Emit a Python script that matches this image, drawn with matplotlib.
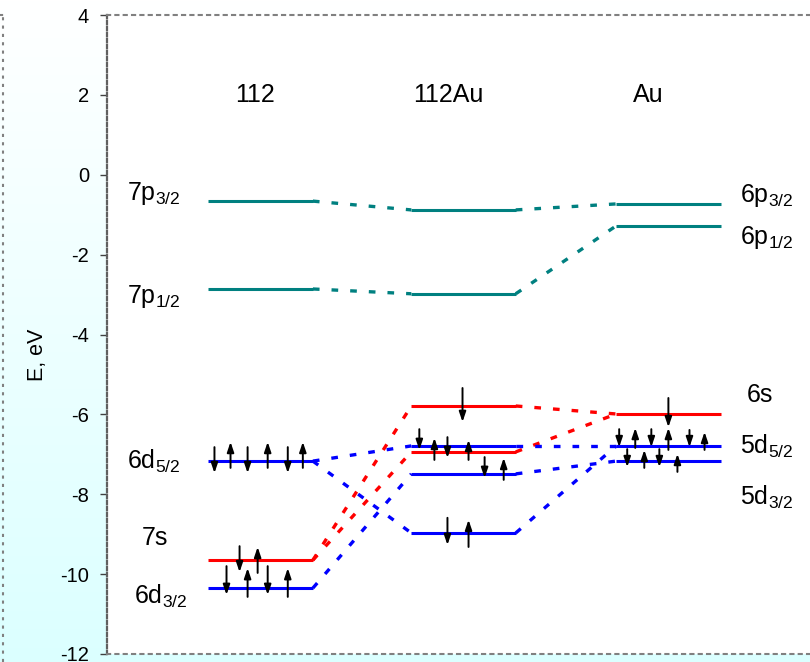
import numpy as np
import matplotlib.pyplot as plt
from matplotlib.lines import Line2D

plt.rcParams["font.family"] = ["Liberation Sans", "DejaVu Sans"]
plt.rcParams["mathtext.default"] = "regular"
plt.rcParams["axes.unicode_minus"] = False

# columns
col_names = ["112", "112Au", "Au"]
col_name_x = [1.47, 3.40, 5.39]
col_start = [1.01, 3.03, 5.07]
level_width = 1.04

# level energies (eV) and colours per column
e_112 = [-0.66, -2.86, -7.17, -9.65, -10.35]
c_112 = ["#008080", "#008080", "blue", "red", "blue"]
e_112au = [-0.88, -2.98, -5.79, -6.79, -6.94, -7.49, -8.97]
c_112au = ["#008080", "#008080", "red", "blue", "red", "blue", "blue"]
e_au = [-0.73, -1.28, -5.99, -6.79, -7.17]
c_au = ["#008080", "#008080", "red", "blue", "blue"]

# correlation lines: (index in left column, index in right column)
links_112_112au = [(0, 0), (1, 1), (3, 2), (3, 4), (2, 3), (2, 6), (4, 5)]
links_112au_au = [(0, 0), (1, 1), (2, 2), (4, 2), (3, 3), (6, 3), (5, 4)]

# electron spins: x, tail energy, head energy
spin_x = [1.07, 1.23, 1.40, 1.60, 1.80, 1.95,
          1.32, 1.50,
          1.19, 1.40, 1.60, 1.80,
          3.54,
          3.11, 3.26, 3.39, 3.60,
          3.76, 3.95,
          3.39, 3.60,
          5.59,
          5.10, 5.26, 5.42, 5.59, 5.80, 5.95,
          5.18, 5.35, 5.50, 5.68]
spin_from = [-6.82, -7.34, -6.82, -7.34, -6.82, -7.34,
             -9.30, -9.97,
             -9.80, -10.57, -9.80, -10.57,
             -5.34,
             -6.37, -7.14, -6.57, -7.14,
             -7.07, -7.64,
             -8.59, -9.32,
             -5.59,
             -6.37, -6.84, -6.37, -6.89, -6.39, -6.89,
             -6.87, -7.34, -6.87, -7.44]
spin_to = [-7.47, -6.69, -7.47, -6.69, -7.47, -6.69,
           -9.95, -9.32,
           -10.52, -9.85, -10.52, -9.85,
           -6.19,
           -6.89, -6.59, -7.09, -6.64,
           -7.59, -7.09,
           -9.27, -8.64,
           -6.32,
           -6.82, -6.34, -6.82, -6.34, -6.82, -6.44,
           -7.32, -6.89, -7.32, -6.99]

# level labels
left_labels = ["7p$_{3/2}$", "7p$_{1/2}$", "6d$_{5/2}$", "7s", "6d$_{3/2}$"]
left_x = [0.47, 0.47, 0.47, 0.48, 0.54]
left_y = [-0.46, -3.06, -7.17, -9.10, -10.55]
right_labels = ["6p$_{3/2}$", "6p$_{1/2}$", "6s", "5d$_{5/2}$", "5d$_{3/2}$"]
right_x = [6.57, 6.57, 6.50, 6.57, 6.57]
right_y = [-0.51, -1.56, -5.51, -6.79, -8.07]

yticks = np.arange(-12, 5, 2)


def draw_levels(ax, col, energies, colors):
    x0 = col_start[col]
    for e, c in zip(energies, colors):
        ax.plot([x0, x0 + level_width], [e, e], color=c, lw=2.2,
                solid_capstyle="butt", zorder=3)


def draw_links(ax, col, e_left, e_right, c_left, links):
    xa = col_start[col] + level_width
    xb = col_start[col + 1]
    for i, j in links:
        ax.plot([xa, xb], [e_left[i], e_right[j]], color=c_left[i], lw=2.4,
                dashes=(2.0, 3.6), dash_capstyle="butt", zorder=2)


fig = plt.figure(figsize=(8.1, 6.62), dpi=100)

# light gradient background
bg = fig.add_axes([0, 0, 1, 1], zorder=-10)
grad = np.linspace(0, 1, 256).reshape(-1, 1)
rgb = np.ones((256, 1, 3))
rgb[:, 0, 0] = 1 - 0.14 * grad[:, 0]
bg.imshow(rgb, aspect="auto", extent=[0, 1, 0, 1], origin="upper")
bg.axis("off")

ax = fig.add_axes([0.1321, 0.0121, 0.8679, 0.9652])
ax.set_facecolor("white")
ax.set_xlim(0, 7.0)
ax.set_ylim(-12, 4)

draw_levels(ax, 0, e_112, c_112)
draw_levels(ax, 1, e_112au, c_112au)
draw_levels(ax, 2, e_au, c_au)
draw_links(ax, 0, e_112, e_112au, c_112, links_112_112au)
draw_links(ax, 1, e_112au, e_au, c_112au, links_112au_au)

for x, y0, y1 in zip(spin_x, spin_from, spin_to):
    ax.annotate("", xy=(x, y1), xytext=(x, y0),
                arrowprops=dict(arrowstyle="-|>,head_length=0.5,head_width=0.17",
                                color="black", lw=1.4, mutation_scale=12,
                                shrinkA=0, shrinkB=0), zorder=4)

for name, x in zip(col_names, col_name_x):
    ax.text(x, 2.0, name, ha="center", va="center", fontsize=18)
for lab, x, y in zip(left_labels, left_x, left_y):
    ax.text(x, y, lab, ha="center", va="center", fontsize=18)
for lab, x, y in zip(right_labels, right_x, right_y):
    ax.text(x, y, lab, ha="center", va="center", fontsize=18)

ax.set_xticks([])
ax.set_yticks(yticks)
ax.tick_params(axis="y", direction="out", length=5, width=1, color="#404040",
               labelsize=14.5, pad=8)
ax.spines["right"].set_visible(False)
ax.spines["left"].set_color("#606060")
ax.spines["left"].set_linewidth(1.6)
ax.spines["left"].set_linestyle((0, (1.5, 1.2)))
for s in ["top", "bottom"]:
    ax.spines[s].set_color("#808080")
    ax.spines[s].set_linewidth(1.5)
    ax.spines[s].set_linestyle((0, (1.5, 2.5)))

fig.text(38 / 810, 1 - 355 / 662, "E, eV", rotation=90, ha="center",
         va="center", fontsize=15.5)

# outer dotted frame on the left
fig.add_artist(Line2D([2.5 / 810, 2.5 / 810], [0, 1 - 15 / 662], color="#808080",
                      lw=1.5, linestyle=(0, (1.5, 2.5))))
fig.add_artist(Line2D([0, 8 / 810], [1 - 15 / 662, 1 - 15 / 662], color="#808080",
                      lw=1.5, linestyle=(0, (1.5, 2.5))))

fig.savefig("out.png", dpi=100)
